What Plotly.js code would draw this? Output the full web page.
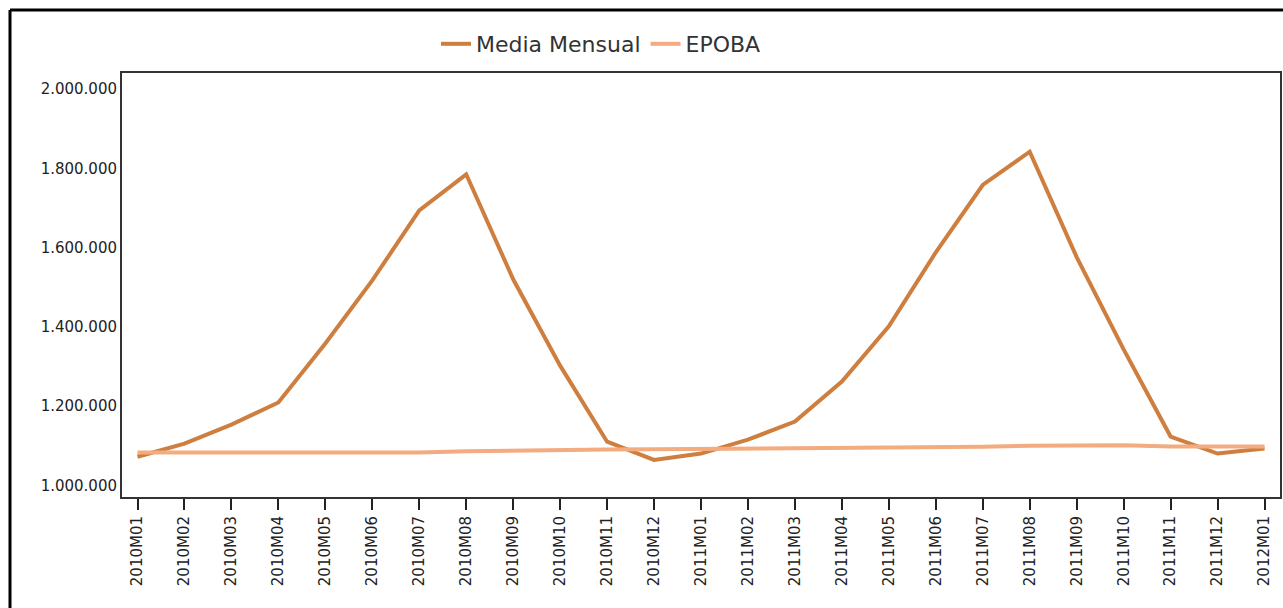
<!DOCTYPE html>
<html>
<head>
<meta charset="utf-8">
<script src="https://cdn.plot.ly/plotly-3.0.1.min.js"></script>
<style>
html,body{margin:0;padding:0;background:#fff;}
#chart{width:1283px;height:608px;}
</style>
</head>
<body>
<div id="chart"></div>
<script>
const categories = ["2010M01","2010M02","2010M03","2010M04","2010M05","2010M06","2010M07","2010M08","2010M09","2010M10","2010M11","2010M12",
  "2011M01","2011M02","2011M03","2011M04","2011M05","2011M06","2011M07","2011M08","2011M09","2011M10","2011M11","2011M12","2012M01"];
const mediaMensual = [1072000,1105000,1153000,1209000,1358000,1517000,1694000,1785000,1520000,1302000,1110000,1064000,
  1080000,1115000,1161000,1262000,1401000,1588000,1758000,1842000,1576000,1343000,1123000,1080000,1093000];
const epoba = [1083000,1083000,1083000,1083000,1083000,1083000,1083000,1086000,1088000,1089000,1090000,1091000,
  1092000,1093000,1093000,1093000,1095000,1096000,1097000,1100000,1101000,1101000,1098000,1097000,1098000];
const yTicks = [1000000,1200000,1400000,1600000,1800000,2000000];

const FONT = "DejaVu Sans, Verdana, sans-serif";
const traces = [
  {x: categories, y: mediaMensual, name: "Media Mensual", type: "scatter", mode: "lines",
   line: {color: "#CE7E3E", width: 4}},
  {x: categories, y: epoba, name: "EPOBA", type: "scatter", mode: "lines",
   line: {color: "#F3AB80", width: 4}}
];
const L = 122, R = 1280, T = 73, B = 497;
const pw = R - L, ph = B - T;
const px = v => (v - L) / pw;
const py = v => 1 - (v - T) / ph;
const layout = {
  width: 1283, height: 608,
  margin: {l: L, r: 1283 - R, t: T, b: 608 - B, pad: 0},
  paper_bgcolor: "#fff", plot_bgcolor: "#fff",
  separators: ",.",
  font: {family: FONT, color: "#222", size: 16},
  showlegend: true,
  legend: {orientation: "h", x: px(436), xanchor: "left", y: py(44), yanchor: "middle",
    font: {family: FONT, size: 22, color: "#333"}, bgcolor: "rgba(0,0,0,0)", tracegroupgap: 0, itemwidth: 30},
  xaxis: {type: "category", tickangle: -90, ticks: "outside", ticklen: 11, tickwidth: 2, tickcolor: "#222",
    showline: true, linecolor: "#333", linewidth: 2, mirror: true, showgrid: false, zeroline: false,
    range: [-0.33, 24.33], tickfont: {family: FONT, size: 15, color: "#222"}, automargin: false},
  yaxis: {range: [970400, 2040700], tickvals: yTicks, tickformat: ",d", ticks: "", showline: true,
    linecolor: "#333", linewidth: 2, mirror: true, showgrid: false, zeroline: false,
    tickfont: {family: FONT, size: 15, color: "#222"}, automargin: false},
  shapes: [
    {type: "line", xref: "paper", yref: "paper", x0: px(10), x1: px(10), y0: py(10), y1: py(620), line: {color: "#000", width: 3}},
    {type: "line", xref: "paper", yref: "paper", x0: px(10), x1: px(1300), y0: py(10), y1: py(10), line: {color: "#000", width: 3}}
  ]
};
Plotly.newPlot("chart", traces, layout, {displayModeBar: false, staticPlot: true});
</script>
</body>
</html>
